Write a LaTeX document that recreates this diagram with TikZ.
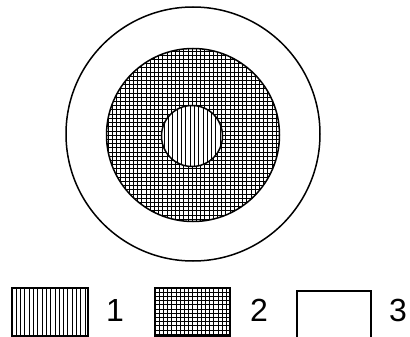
\documentclass[tikz,border=0pt]{standalone}
\usepackage{fontspec}
\setmainfont{Liberation Sans}
\begin{document}
\begin{tikzpicture}[x=1pt,y=-1pt,
  outline/.style={draw=black,line width=1.5pt},
  hatch/.style={draw=black,line width=1pt},
  lbl/.style={font=\fontsize{32}{32}\selectfont,inner sep=0pt,anchor=center}]
\useasboundingbox (0,0) rectangle (410,337);
\fill[white] (0,0) rectangle (410,337);
% outer circle
\draw[outline] (193,134) circle (127);
% middle grid circle
\begin{scope}
  \clip (193,135) circle (86.5);
  \foreach \i in {0,...,42} {
    \draw[hatch] (104+\i*4.2,45) -- (104+\i*4.2,225);
    \draw[hatch] (104,47+\i*4.2) -- (284,47+\i*4.2);
  }
\end{scope}
\draw[outline] (193,135) circle (86.5);
% inner circle
\fill[white] (192,136) circle (30.5);
\begin{scope}
  \clip (192,136) circle (30.5);
  \foreach \i in {0,...,16} {
    \draw[hatch] (160+\i*4.3,100) -- (160+\i*4.3,170);
  }
\end{scope}
\draw[outline] (192,136) circle (30.5);
% legend
\begin{scope}
  \clip (12,288) rectangle (88,336);
  \foreach \i in {0,...,18} {
    \draw[hatch] (12+\i*4.3,286) -- (12+\i*4.3,338);
  }
\end{scope}
\draw[outline] (12,288) rectangle (88,336);
\node[lbl] (l1) at (115,310) {1};
\begin{scope}
  \clip (155,288) rectangle (230,336);
  \foreach \i in {0,...,18} {
    \draw[hatch] (155+\i*4.2,286) -- (155+\i*4.2,338);
  }
  \foreach \i in {0,...,12} {
    \draw[hatch] (153,288+\i*4.2) -- (232,288+\i*4.2);
  }
\end{scope}
\draw[outline] (155,288) rectangle (230,336);
\node[lbl] (l2) at (259,310) {2};
\draw[outline] (297,291) rectangle (371,338);
\node[lbl] (l3) at (398,310) {3};
\end{tikzpicture}
\end{document}
